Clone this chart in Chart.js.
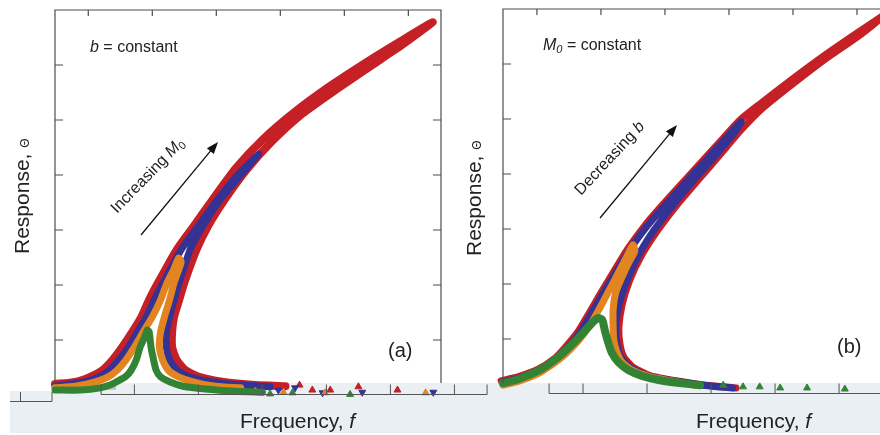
<!DOCTYPE html>
<html>
<head>
<meta charset="utf-8">
<script src="https://cdn.jsdelivr.net/npm/chart.js@4.4.1/dist/chart.umd.min.js"></script>
<style>
  html, body { margin: 0; padding: 0; width: 880px; height: 435px; overflow: hidden; background: #fff; }
  canvas { position: absolute; top: 0; }
  #chartA { left: 0; }
  #chartB { left: 460px; }
</style>
</head>
<body>
<canvas id="chartB" width="440" height="435"></canvas>
<canvas id="chartA" width="490" height="435"></canvas>
<script>
// tick positions (frequency f, response theta), arbitrary units
const fTicks = [1, 2, 3, 4, 5, 6];
const thetaTicks = [1, 2, 3, 4, 5, 6];

// panel (a): b constant, M0 increasing (green < orange < blue < red)
// each curve: upper branch up to the peak, then back down the unstable/lower branch
const redA = [
  [0.48,0.20],[0.80,0.24],[1.03,0.33],[1.22,0.45],[1.38,0.64],[1.53,0.87],[1.69,1.15],[1.83,1.42],[1.95,1.73],[2.09,2.04],
  [2.38,2.64],[2.66,3.09],[2.94,3.55],[3.31,4.13],[3.72,4.64],[4.23,5.15],[4.78,5.62],[5.33,6.04],[5.86,6.42],[6.38,6.78],
  [5.92,6.38],[5.41,5.98],[4.88,5.56],[4.34,5.11],[3.86,4.60],[3.47,4.09],[3.13,3.55],[2.88,3.09],[2.69,2.64],[2.50,2.04],
  [2.42,1.73],[2.34,1.42],[2.31,1.15],[2.31,0.87],[2.38,0.64],[2.52,0.45],[2.73,0.33],[3.09,0.24],[3.61,0.18],[4.08,0.16]
];
const blueA = [
  [0.48,0.16],[0.94,0.24],[1.17,0.33],[1.33,0.45],[1.48,0.64],[1.63,0.87],[1.77,1.15],[1.91,1.42],[2.03,1.73],[2.17,2.04],
  [2.45,2.64],[2.73,3.09],[3.02,3.55],[3.33,4.00],[3.66,4.38],
  [3.38,4.00],[3.06,3.55],[2.80,3.09],[2.59,2.64],[2.42,2.04],[2.34,1.73],[2.27,1.42],[2.22,1.15],[2.22,0.87],[2.27,0.64],
  [2.39,0.45],[2.58,0.33],[2.91,0.24],[3.38,0.18],[3.84,0.15]
];
const orangeA = [
  [0.48,0.13],[0.80,0.16],[1.11,0.24],[1.31,0.33],[1.45,0.45],[1.59,0.64],[1.72,0.87],[1.86,1.15],[2.00,1.42],[2.13,1.73],
  [2.23,2.04],[2.33,2.27],[2.41,2.49],
  [2.45,2.42],[2.41,2.27],[2.34,2.04],[2.27,1.73],[2.19,1.42],[2.13,1.15],[2.11,0.87],[2.16,0.64],[2.25,0.45],[2.41,0.33],
  [2.64,0.24],[2.98,0.16],[3.38,0.13]
];
const greenA = [
  [0.48,0.09],[0.88,0.09],[1.19,0.13],[1.34,0.18],[1.44,0.24],[1.58,0.33],[1.67,0.45],[1.75,0.64],[1.81,0.87],[1.88,1.05],
  [1.92,1.18],
  [1.95,1.15],[1.98,0.87],[2.02,0.64],[2.06,0.45],[2.13,0.33],[2.27,0.24],[2.48,0.16],[2.83,0.11],[3.30,0.07],[3.72,0.05]
];
// sparse markers of the low branch
const redTailA = [[4.30,0.18],[4.50,0.09],[4.78,0.09],[5.22,0.15],[5.83,0.09],[6.81,0.09]];
const blueTailA = [[3.97,0.09],[4.23,0.13],[4.66,0.04],[5.28,0.05],[6.39,0.05]];
const orangeTailA = [[3.61,0.07],[4.05,0.05],[4.70,0.04],[6.27,0.04]];
const greenTailA = [[3.84,0.02],[4.19,0.04],[5.09,0.01]];

// panel (b): M0 constant, b decreasing
const redB = [
  [0.44,0.24],[0.70,0.31],[1.02,0.45],[1.27,0.64],[1.45,0.86],[1.64,1.13],[1.81,1.46],[1.97,1.78],[2.13,2.09],[2.42,2.64],
  [2.67,3.04],[2.91,3.37],[3.36,3.95],[3.80,4.51],[4.16,4.97],[4.48,5.27],[4.97,5.71],[5.52,6.18],[6.02,6.58],[6.45,6.91],
  [6.05,6.53],[5.53,6.11],[5.00,5.64],[4.53,5.20],[4.19,4.80],[3.86,4.35],[3.52,3.89],[3.19,3.44],[2.89,2.98],[2.64,2.53],
  [2.45,2.07],[2.33,1.62],[2.28,1.20],[2.30,0.89],[2.36,0.67],[2.50,0.49],[2.78,0.33],[3.17,0.24],[3.64,0.16],[4.11,0.11]
];
const blueB = [
  [0.47,0.22],[0.73,0.29],[1.05,0.44],[1.30,0.62],[1.48,0.84],[1.67,1.11],[1.84,1.44],[2.00,1.76],[2.16,2.07],[2.45,2.62],
  [2.70,3.02],[2.94,3.35],[3.39,3.93],[3.83,4.49],[4.19,4.95],
  [4.14,4.84],[3.80,4.35],[3.45,3.89],[3.13,3.44],[2.83,2.98],[2.59,2.53],[2.41,2.07],[2.28,1.62],[2.23,1.20],[2.25,0.89],
  [2.31,0.67],[2.45,0.49],[2.73,0.33],[3.13,0.24],[3.59,0.16],[4.06,0.11]
];
const orangeB = [
  [0.47,0.16],[0.73,0.24],[1.00,0.36],[1.23,0.53],[1.45,0.73],[1.64,0.96],[1.83,1.25],[1.98,1.56],[2.13,1.89],[2.27,2.20],
  [2.39,2.47],[2.50,2.71],
  [2.53,2.60],[2.44,2.40],[2.33,2.13],[2.23,1.84],[2.19,1.53],[2.19,1.25],[2.20,0.98],[2.25,0.76],[2.33,0.58],[2.48,0.44],
  [2.77,0.31],[3.08,0.24],[3.47,0.16]
];
const greenB = [
  [0.47,0.20],[0.66,0.25],[0.84,0.33],[1.05,0.44],[1.23,0.58],[1.42,0.76],[1.59,0.95],[1.75,1.15],[1.86,1.29],[1.95,1.38],
  [2.02,1.35],[2.06,1.16],[2.11,0.95],[2.17,0.75],[2.27,0.58],[2.42,0.44],[2.64,0.33],[2.92,0.25],[3.23,0.20],[3.55,0.16]
];
const greenTailB = [[3.91,0.16],[4.22,0.13],[4.48,0.13],[4.80,0.11],[5.22,0.11],[5.81,0.09]];

const FONT = '"Liberation Sans", Arial, Helvetica, sans-serif';
const RED = 'rgb(196, 32, 38)';
const BLUE = 'rgb(52, 50, 148)';
const ORANGE = 'rgb(226, 132, 32)';
const GREEN = 'rgb(50, 132, 52)';
const BAND = '#e9eff3';
const stripShift = 0.72; // bottom axis strip of the scan is offset to the right

function toXY(arr) {
  return arr.map(p => ({ x: p[0], y: p[1] }));
}

function curve(arr, color, order, width) {
  return {
    data: toXY(arr),
    showLine: true,
    borderColor: color,
    borderWidth: width || 7,
    borderCapStyle: 'round',
    borderJoinStyle: 'round',
    tension: 0.2,
    pointRadius: 0,
    clip: false,
    order: order,
  };
}

function marks(arr, color, order, down) {
  return {
    data: toXY(arr),
    showLine: false,
    pointStyle: 'triangle',
    pointRadius: 4,
    pointRotation: down ? 180 : 0,
    backgroundColor: color,
    borderColor: color,
    borderWidth: 1,
    clip: false,
    order: order,
  };
}

function drawParts(ctx, x, y, parts) {
  let cx = x;
  parts.forEach(([t, font, dy]) => {
    ctx.font = font + ' ' + FONT;
    ctx.fillText(t, cx, y + (dy || 0));
    cx += ctx.measureText(t).width;
  });
}

function arrow(ctx, x1, y1, x2, y2) {
  const ang = Math.atan2(y2 - y1, x2 - x1);
  const c = Math.cos(ang), s = Math.sin(ang);
  ctx.beginPath();
  ctx.moveTo(x1, y1);
  ctx.lineTo(x2 - 9 * c, y2 - 9 * s);
  ctx.lineWidth = 1.3;
  ctx.stroke();
  ctx.beginPath();
  ctx.moveTo(x2, y2);
  ctx.lineTo(x2 - 12 * c - 4.5 * s, y2 - 12 * s + 4.5 * c);
  ctx.lineTo(x2 - 12 * c + 4.5 * s, y2 - 12 * s - 4.5 * c);
  ctx.closePath();
  ctx.fill();
}

function drawFrame(chart, floorVal) {
  const { ctx, chartArea: a, scales: { x, y } } = chart;
  const fy = Math.round(y.getPixelForValue(floorVal));
  ctx.save();
  ctx.strokeStyle = '#4d4d4d';
  ctx.lineWidth = 1.2;
  ctx.beginPath();
  ctx.moveTo(a.left, fy);
  ctx.lineTo(a.left, a.top);
  ctx.lineTo(a.right, a.top);
  ctx.lineTo(a.right, fy);
  thetaTicks.forEach(v => {
    const py = y.getPixelForValue(v);
    ctx.moveTo(a.left, py); ctx.lineTo(a.left + 8, py);
    ctx.moveTo(a.right, py); ctx.lineTo(a.right - 8, py);
  });
  fTicks.forEach(v => {
    const px = x.getPixelForValue(v);
    ctx.moveTo(px, a.top); ctx.lineTo(px, a.top + 6);
  });
  ctx.stroke();

  // shifted bottom strip
  const sy = Math.round(y.getPixelForValue(0)) - 0.5;
  const s0 = x.getPixelForValue(x.min + stripShift);
  const s1 = x.getPixelForValue(x.max + stripShift);
  ctx.lineWidth = 1;
  ctx.strokeStyle = '#555';
  ctx.beginPath();
  ctx.moveTo(s0, sy - 10); ctx.lineTo(s0, sy); ctx.lineTo(s1, sy); ctx.lineTo(s1, sy - 10);
  fTicks.forEach(v => {
    const px = x.getPixelForValue(v + stripShift);
    ctx.moveTo(px, sy); ctx.lineTo(px, sy - 10);
  });
  ctx.stroke();
  ctx.restore();
}

const panelA = {
  id: 'panelA',
  beforeDatasetsDraw(chart) {
    const { ctx, chartArea: a, width } = chart;
    const fy = chart.scales.y.getPixelForValue(0.22);
    ctx.save();
    ctx.fillStyle = BAND;
    ctx.fillRect(10, 391, width - 10, 42);
    ctx.fillRect(a.left, fy, width - a.left, 391 - fy);
    ctx.fillStyle = 'rgba(190, 165, 210, 0.7)';
    ctx.fillRect(68, 384, 48, 6);
    ctx.restore();
  },
  afterDatasetsDraw(chart) {
    const ctx = chart.ctx;
    drawFrame(chart, 0.22);
    ctx.save();
    // left stub of the shifted strip
    ctx.strokeStyle = '#555';
    ctx.lineWidth = 1;
    ctx.beginPath();
    ctx.moveTo(10, 401.5); ctx.lineTo(52, 401.5); ctx.lineTo(52, 392);
    ctx.moveTo(20.5, 401.5); ctx.lineTo(20.5, 392);
    ctx.stroke();

    ctx.fillStyle = '#222';
    ctx.strokeStyle = '#111';
    ctx.textBaseline = 'alphabetic';
    drawParts(ctx, 90, 52, [['b', 'italic 16px'], [' = constant', '16px']]);
    drawParts(ctx, 388, 357, [['(a)', '20px']]);
    drawParts(ctx, 240, 428, [['Frequency, ', '21px'], ['f', 'italic 21px']]);

    ctx.save();
    ctx.translate(29, 254);
    ctx.rotate(-Math.PI / 2);
    drawParts(ctx, 0, 0, [['Response, ', '21px'], ['\u0398', '12px']]);
    ctx.restore();

    ctx.save();
    ctx.translate(117, 214);
    ctx.rotate(-46 * Math.PI / 180);
    drawParts(ctx, 0, 0, [['Increasing ', '16px'], ['M', 'italic 16px'], ['0', '11px', 3]]);
    ctx.restore();

    ctx.fillStyle = '#111';
    arrow(ctx, 141, 235, 218, 142);
    ctx.restore();
  }
};

const panelB = {
  id: 'panelB',
  beforeDatasetsDraw(chart) {
    const { ctx, width } = chart;
    const fy = chart.scales.y.getPixelForValue(0.2);
    ctx.save();
    ctx.fillStyle = BAND;
    ctx.fillRect(0, fy, width, 433 - fy);
    ctx.restore();
  },
  afterDatasetsDraw(chart) {
    const ctx = chart.ctx;
    drawFrame(chart, 0.2);
    ctx.save();
    ctx.fillStyle = '#222';
    ctx.strokeStyle = '#111';
    ctx.textBaseline = 'alphabetic';
    drawParts(ctx, 83, 50, [['M', 'italic 16px'], ['0', 'italic 11px', 3], [' = constant', '16px']]);
    drawParts(ctx, 377, 353, [['(b)', '20px']]);
    drawParts(ctx, 236, 428, [['Frequency, ', '21px'], ['f', 'italic 21px']]);

    ctx.save();
    ctx.translate(21, 256);
    ctx.rotate(-Math.PI / 2);
    drawParts(ctx, 0, 0, [['Response, ', '21px'], ['\u0398', '12px']]);
    ctx.restore();

    ctx.save();
    ctx.translate(121, 196);
    ctx.rotate(-47 * Math.PI / 180);
    drawParts(ctx, 0, 0, [['Decreasing ', '16px'], ['b', 'italic 16px']]);
    ctx.restore();

    ctx.fillStyle = '#111';
    arrow(ctx, 140, 218, 217, 125);
    ctx.restore();
  }
};

function makeChart(id, sets, xmin, xmax, padding, plugin) {
  return new Chart(id, {
    type: 'scatter',
    data: { datasets: sets },
    options: {
      responsive: false,
      animation: false,
      devicePixelRatio: 1,
      events: [],
      layout: { padding: padding },
      plugins: {
        legend: { display: false },
        tooltip: { enabled: false },
      },
      scales: {
        x: { type: 'linear', display: false, min: xmin, max: xmax },
        y: { type: 'linear', display: false, min: 0, max: 7 },
      },
    },
    plugins: [plugin],
  });
}

const chartB = makeChart('chartB', [
  curve(redB, RED, 4, 7),
  curve(blueB, BLUE, 3),
  curve(orangeB, ORANGE, 2),
  curve(greenB, GREEN, 1, 8),
  marks(greenTailB, GREEN, 1, false),
], 0.47, 6.50, { left: 43, right: 11, top: 9, bottom: 41 }, panelB);

const chartA = makeChart('chartA', [
  curve(redA, RED, 4, 8),
  marks(redTailA, RED, 4, false),
  curve(blueA, BLUE, 3),
  marks(blueTailA, BLUE, 3, true),
  curve(orangeA, ORANGE, 2),
  marks(orangeTailA, ORANGE, 2, false),
  curve(greenA, GREEN, 1),
  marks(greenTailA, GREEN, 1, false),
], 0.48, 6.51, { left: 55, right: 49, top: 10, bottom: 40 }, panelA);
</script>
</body>
</html>
